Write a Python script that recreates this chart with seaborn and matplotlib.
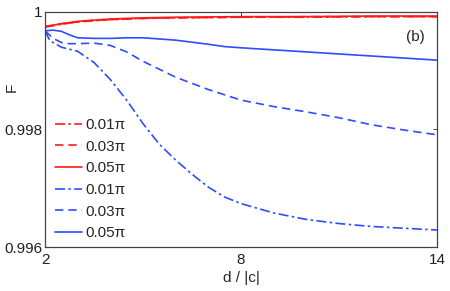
import numpy as np
import pandas as pd
import matplotlib
matplotlib.use("Agg")
import matplotlib.pyplot as plt
import seaborn as sns

# --- data ---
x_red = [2, 2.5, 3, 3.5, 4, 5, 6, 8, 10, 12, 14]
red_001 = [0.99974, 0.99979, 0.99983, 0.99985, 0.99987, 0.99989, 0.99990, 0.99991, 0.99991, 0.99992, 0.99992]
red_003 = [0.99975, 0.99980, 0.99983, 0.99986, 0.99987, 0.99989, 0.99990, 0.99991, 0.99992, 0.99992, 0.99992]
red_005 = [0.99975, 0.99980, 0.99984, 0.99986, 0.99988, 0.99990, 0.99991, 0.99992, 0.99992, 0.99993, 0.99993]

x_b005 = [2, 2.25, 2.5, 2.75, 3, 3.5, 4, 4.5, 5, 6, 7, 7.5, 8, 10, 12, 14]
blue_005 = [0.99968, 0.99969, 0.99967, 0.99961, 0.99956, 0.99955, 0.99955, 0.99956, 0.99956, 0.99952,
            0.99945, 0.99941, 0.99939, 0.99932, 0.99925, 0.99918]

x_b003 = [2, 2.25, 2.5, 2.75, 3, 3.5, 4, 4.5, 5, 6, 7, 8, 9, 10, 11, 12, 13, 14]
blue_003 = [0.99968, 0.99955, 0.99948, 0.99946, 0.99946, 0.99947, 0.99943, 0.99932, 0.99916, 0.99889,
            0.99868, 0.99850, 0.99839, 0.99830, 0.99820, 0.99808, 0.99799, 0.99791]

x_b001 = [2, 2.15, 2.5, 3, 3.5, 4, 4.5, 5, 5.5, 6, 6.5, 7, 7.5, 8, 9, 10, 11, 12, 13, 14]
blue_001 = [0.99968, 0.99951, 0.99940, 0.99933, 0.99914, 0.99885, 0.99850, 0.99810, 0.99775, 0.99748,
            0.99724, 0.99702, 0.99685, 0.99674, 0.99658, 0.99647, 0.99640, 0.99635, 0.99632, 0.99629]

labels = ["0.01π", "0.03π", "0.05π"]
RED = "#ff1a1a"
BLUE = "#2e4dff"
FS = 11

sns.set_theme(style="white")
plt.rcParams['font.family'] = ['Liberation Sans', 'DejaVu Sans']

fig = plt.figure(figsize=(4.5, 2.91), dpi=100)
ax = fig.add_axes([0.1, 0.151, 0.871, 0.808])

series = [
    (x_red, red_001, RED, (0, (6, 2, 1.5, 2)), labels[0]),
    (x_red, red_003, RED, (0, (5, 3)), labels[1]),
    (x_red, red_005, RED, "-", labels[2]),
    (x_b001, blue_001, BLUE, (0, (6, 2, 1.5, 2)), labels[0]),
    (x_b003, blue_003, BLUE, (0, (5, 3)), labels[1]),
    (x_b005, blue_005, BLUE, "-", labels[2]),
]
for xs, ys, col, ls, lab in series:
    sns.lineplot(x=xs, y=ys, color=col, linestyle=ls, linewidth=1.2, label=lab, ax=ax)

ax.set_xlim(2, 14)
ax.set_ylim(0.996, 1.0)
ax.set_xticks([2, 8, 14])
ax.set_xticklabels(["2", "8", "14"])
ax.set_yticks([0.996, 0.998, 1.0])
ax.set_yticklabels(["0.996", "0.998", "1"])
ax.tick_params(direction="in", length=3, width=0.6, top=True, right=True,
               labelsize=FS, colors="#222222")
ax.tick_params(axis="x", pad=4)
ax.tick_params(axis="y", pad=2)
for s in ax.spines.values():
    s.set_color("#444444")
    s.set_linewidth(0.9)

ax.set_xlabel("d / |c|", fontsize=FS, va="center")
ax.xaxis.set_label_coords(0.5, -0.132)
ax.set_ylabel("F", fontsize=FS, va="center")
ax.yaxis.set_label_coords(-0.084, 0.68)
ax.text(0.944, 0.894, "(b)", transform=ax.transAxes, fontsize=FS, ha="center", va="center")

ax.legend(loc="upper left", bbox_to_anchor=(0.01, 0.575), frameon=False, fontsize=FS,
          handlelength=1.76, handletextpad=0.2, labelspacing=0.5, borderaxespad=0.0)

fig.savefig("out.png", dpi=100)
